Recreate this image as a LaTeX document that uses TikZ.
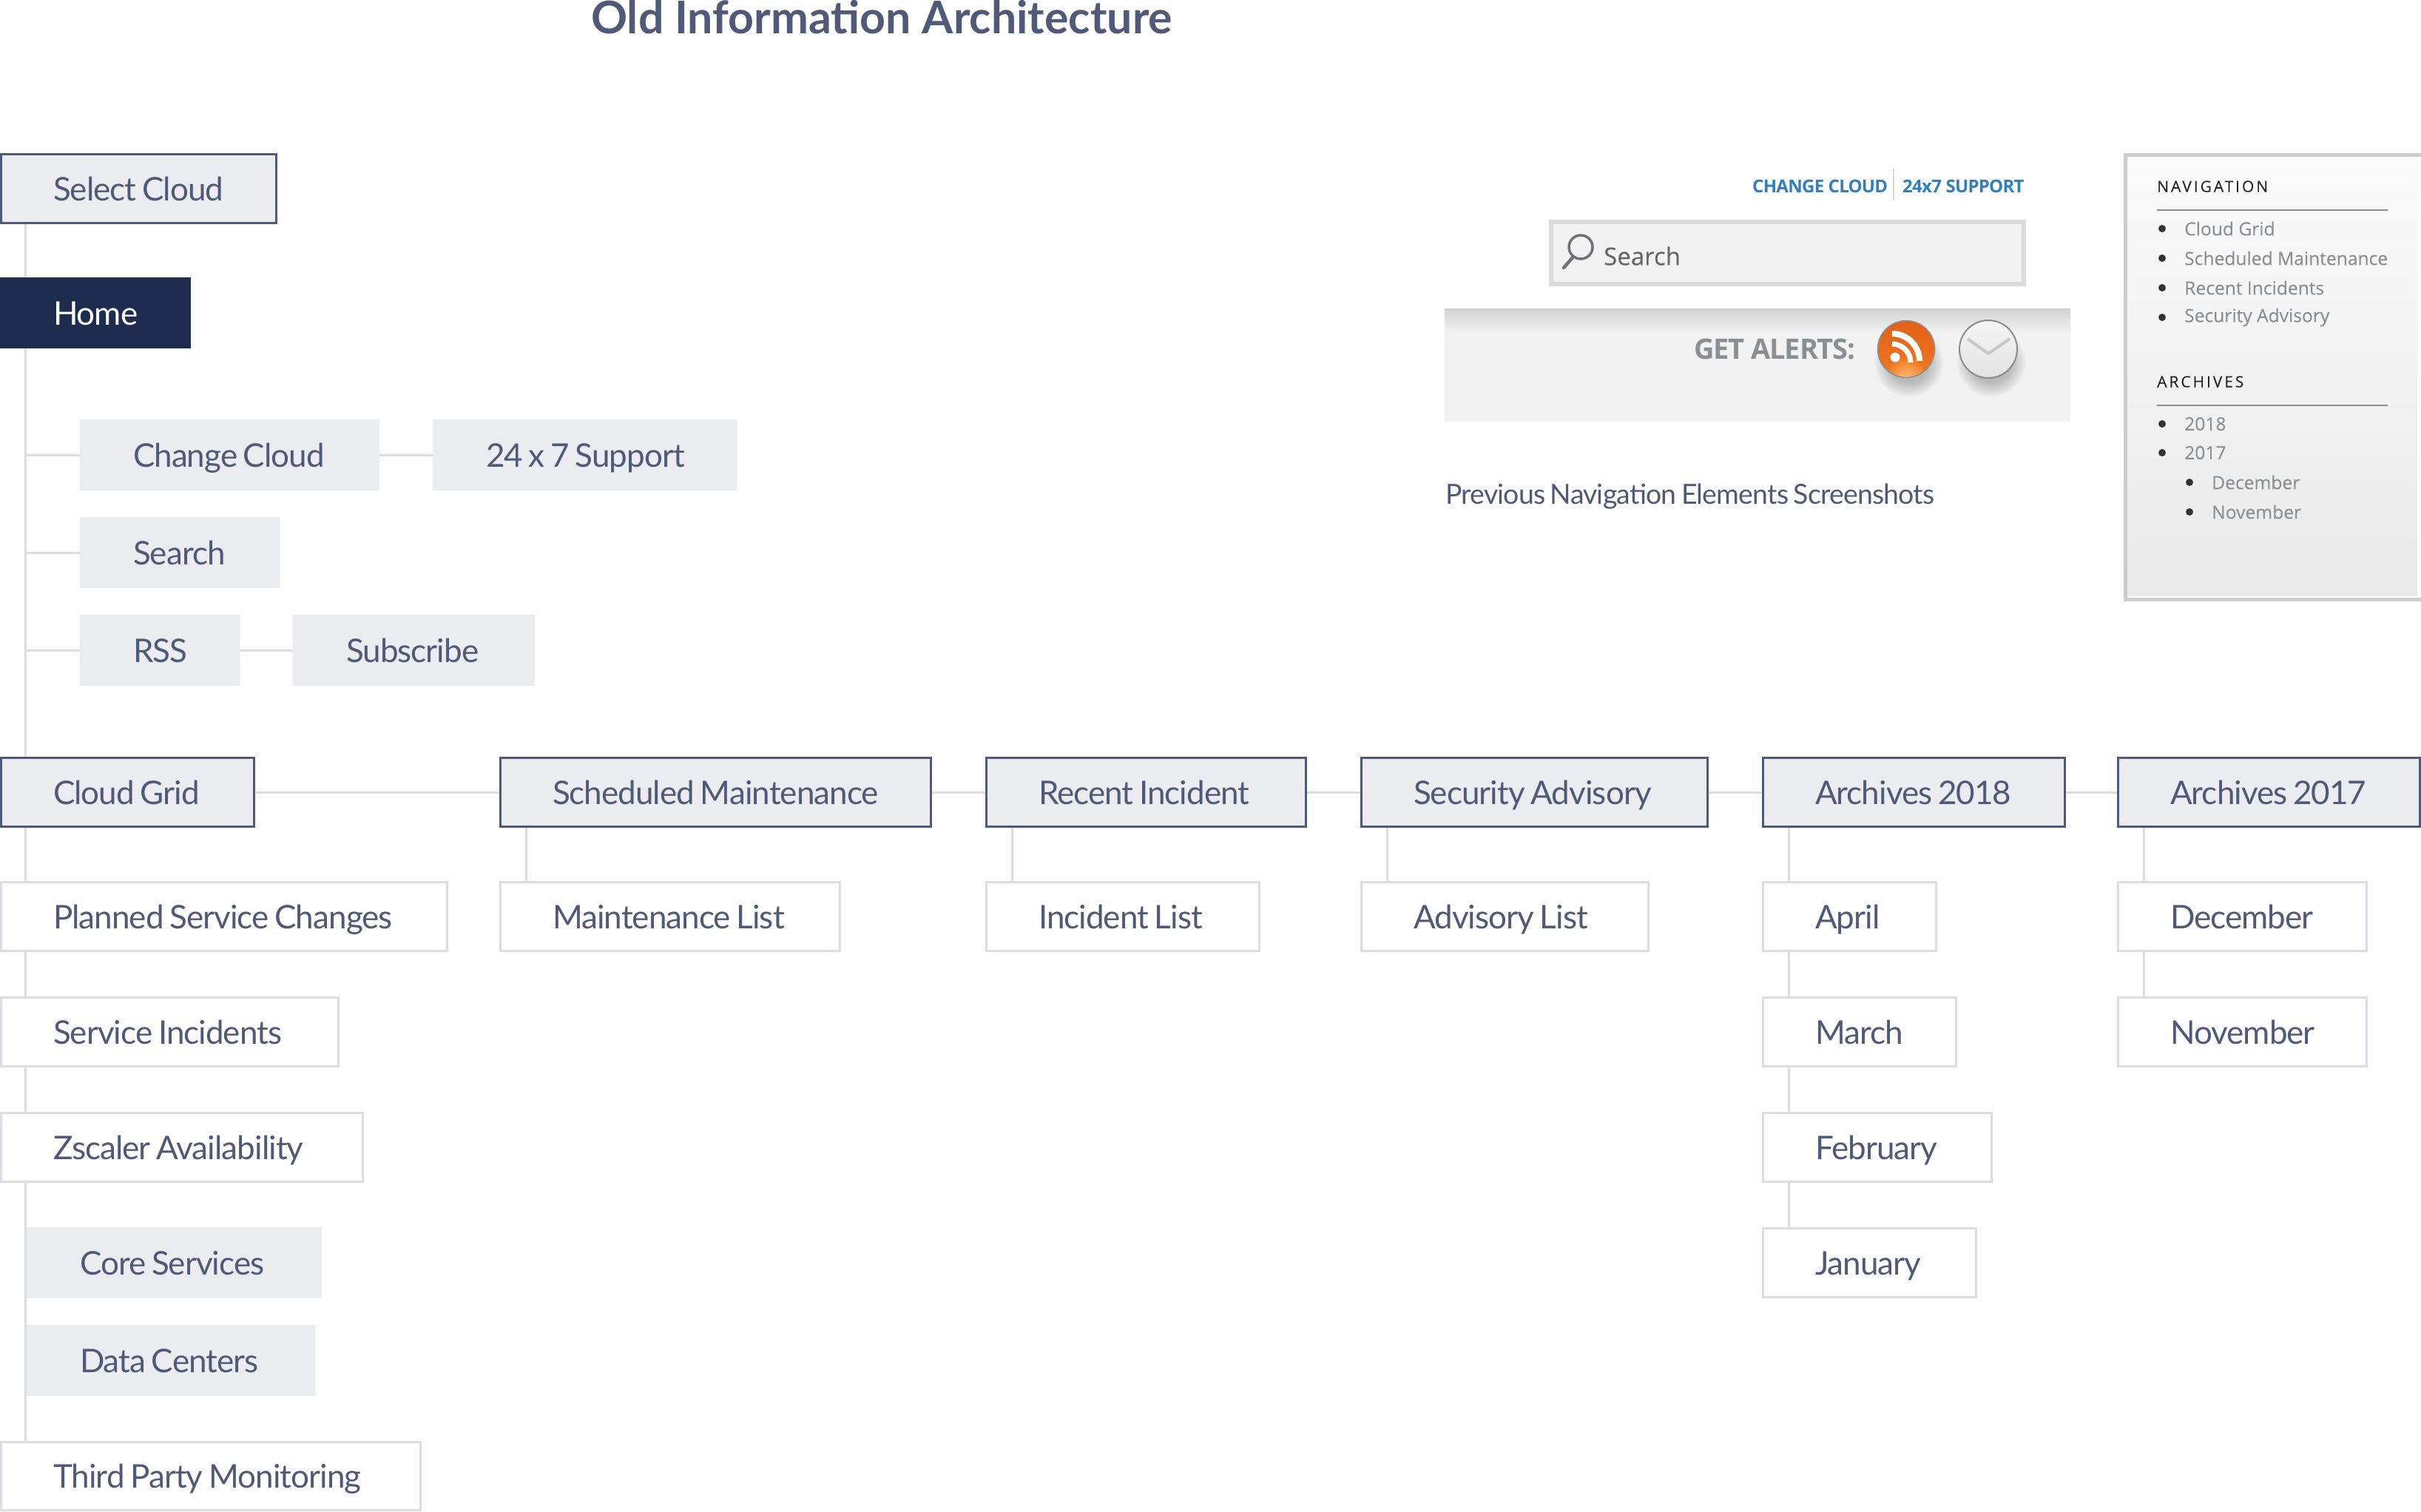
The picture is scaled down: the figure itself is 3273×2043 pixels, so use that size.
\documentclass[tikz,border=0pt]{standalone}
\usepackage{fontspec}
\setmainfont{Lato}[LetterSpace=-2.2,WordSpace=0.75]
\newfontfamily\titlefont{Lato Bold}
\newfontfamily\shotfont{Open Sans}[FakeBold=0.15]
\newfontfamily\shotboldfont{Open Sans Bold}
\usetikzlibrary{calc}
\definecolor{ink}{HTML}{505A78}
\definecolor{boxfill}{HTML}{EBECF0}
\definecolor{rulegrey}{HTML}{DCDDE3}
\definecolor{navy}{HTML}{1E2D4F}
\definecolor{shotgrey}{HTML}{8C8F92}
\definecolor{linkblue}{HTML}{2F7FC1}
\definecolor{panelgrey}{HTML}{F2F2F2}
\definecolor{rssA}{HTML}{E2601A}
\definecolor{rssB}{HTML}{EE7A1E}
\definecolor{rssC}{HTML}{FAC080}
\tikzset{
  boxtext/.style={inner sep=0pt,font=\fontsize{44}{53}\selectfont,text=ink},
  selbox/.style={boxtext,draw=ink,line width=3pt,fill=boxfill},
  homebox/.style={boxtext,fill=navy,text=white},
  softbox/.style={boxtext,fill=boxfill},
  linebox/.style={boxtext,draw=rulegrey,line width=3pt,fill=white},
  link/.style={draw=rulegrey,line width=3pt},
  shotitem/.style={inner sep=0pt,anchor=west,font=\shotfont\fontsize{24.6}{28}\selectfont,text=shotgrey},
  shothead/.style={inner sep=0pt,anchor=west,font=\shotfont\fontsize{21}{26}\selectfont,text=black!85},
  shotbullet/.style={circle,fill=black!80,inner sep=0pt,minimum size=10pt},
}
% #1 inset, #2 name, #3-#6 outer edges, #7 style, #8 text
\newcommand{\bxgen}[8]{%
  \pgfmathsetmacro\bxW{#5-#3-2*#1}%
  \pgfmathsetmacro\bxHt{#6-#4-2*#1}%
  \pgfmathsetmacro\bxInd{72-#1}%
  \node[#7,minimum height=\bxHt pt] (#2) at ({(#3+#5)/2},{(#4+#6)/2})
    {\makebox[\bxW pt][l]{\hspace{\bxInd pt}\rule[-12pt]{0pt}{56pt}#8}};%
}
\newcommand{\sel}[6]{\bxgen{1.5}{#1}{#2}{#3}{#4}{#5}{selbox}{#6}}
\newcommand{\lin}[6]{\bxgen{1.5}{#1}{#2}{#3}{#4}{#5}{linebox}{#6}}
\newcommand{\sft}[6]{\bxgen{0}{#1}{#2}{#3}{#4}{#5}{softbox}{#6}}
\begin{document}
\begin{tikzpicture}[x=1pt,y=-1pt]
\useasboundingbox (0,0) rectangle (3273,2043);
\clip (0,0) rectangle (3273,2043);
\fill[white] (0,0) rectangle (3273,2043);
\coordinate (t) at (34,0);

\node[anchor=base west,inner sep=0pt,font=\titlefont\fontsize{60.8}{72}\selectfont,text=ink] (title) at (799,45) {Old Information Architecture};

% left tree
\sel{select}{0}{207}{375}{303}{Select Cloud}
\bxgen{0}{home}{0}{375}{258}{471}{homebox}{Home}
\sft{change}{108}{567}{513}{663}{Change Cloud}
\sft{support}{585}{567}{996}{663}{24 x 7 Support}
\sft{search}{108}{699}{378}{795}{Search}
\sft{rss}{108}{831}{324}{927}{RSS}
\sft{subscribe}{396}{831}{723}{927}{Subscribe}

\sel{cloud}{0}{1023}{345}{1119}{Cloud Grid}
\sel{sched}{675}{1023}{1260}{1119}{Scheduled Maintenance}
\sel{recent}{1332}{1023}{1767}{1119}{Recent Incident}
\sel{secur}{1839}{1023}{2310}{1119}{Security Advisory}
\sel{arcA}{2382}{1023}{2793}{1119}{Archives 2018}
\sel{arcB}{2862}{1023}{3273}{1119}{Archives 2017}

\lin{planned}{0}{1191}{606}{1287}{Planned Service Changes}
\lin{incid}{0}{1347}{459}{1443}{Service Incidents}
\lin{zscaler}{0}{1503}{492}{1599}{Zscaler Availability}
\sft{core}{36}{1659}{435}{1755}{Core Services}
\sft{data}{36}{1791}{426}{1887}{Data Centers}
\lin{third}{0}{1948}{570}{2043}{Third Party Monitoring}

\lin{mlist}{675}{1191}{1137}{1287}{Maintenance List}
\lin{ilist}{1332}{1191}{1704}{1287}{Incident List}
\lin{alist}{1839}{1191}{2230}{1287}{Advisory List}
\lin{april}{2382}{1191}{2619}{1287}{April}
\lin{march}{2382}{1347}{2646}{1443}{March}
\lin{feb}{2382}{1503}{2694}{1599}{February}
\lin{jan}{2382}{1659}{2673}{1755}{January}
\lin{dec}{2862}{1191}{3201}{1287}{December}
\lin{nov}{2862}{1347}{3201}{1443}{November}

% connectors
\draw[link] (select.south -| t) -- (home.north -| t);
\draw[link] (home.south -| t) -- (cloud.north -| t);
\draw[link] (change.west -| t) -- (change.west);
\draw[link] (change.east) -- (support.west);
\draw[link] (search.west -| t) -- (search.west);
\draw[link] (rss.west -| t) -- (rss.west);
\draw[link] (rss.east) -- (subscribe.west);
\draw[link] (cloud.south -| t) -- (planned.north -| t);
\draw[link] (planned.south -| t) -- (incid.north -| t);
\draw[link] (incid.south -| t) -- (zscaler.north -| t);
\draw[link] (zscaler.south -| t) -- (third.north -| t);
\draw[link] (cloud.east) -- (sched.west);
\draw[link] (sched.east) -- (recent.west);
\draw[link] (recent.east) -- (secur.west);
\draw[link] (secur.east) -- (arcA.west);
\draw[link] (arcA.east) -- (arcB.west);
\draw[link] ([xshift=36pt]sched.south west) -- ([xshift=36pt]mlist.north west);
\draw[link] ([xshift=36pt]recent.south west) -- ([xshift=36pt]ilist.north west);
\draw[link] ([xshift=36pt]secur.south west) -- ([xshift=36pt]alist.north west);
\draw[link] ([xshift=36pt]arcA.south west) -- ([xshift=36pt]april.north west);
\draw[link] ([xshift=36pt]april.south west) -- ([xshift=36pt]march.north west);
\draw[link] ([xshift=36pt]march.south west) -- ([xshift=36pt]feb.north west);
\draw[link] ([xshift=36pt]feb.south west) -- ([xshift=36pt]jan.north west);
\draw[link] ([xshift=36pt]arcB.south west) -- ([xshift=36pt]dec.north west);
\draw[link] ([xshift=36pt]dec.south west) -- ([xshift=36pt]nov.north west);

% screenshot: header links
\node[inner sep=0pt,anchor=west,font=\shotboldfont\fontsize{24}{28}\selectfont,text=linkblue] (lnkA) at (2369,252) {\addfontfeature{LetterSpace=-3}CHANGE CLOUD};
\draw[black!15,line width=2pt] (2560,228) -- (2560,270);
\node[inner sep=0pt,anchor=west,font=\shotboldfont\fontsize{24}{28}\selectfont,text=linkblue] (lnkB) at (2572,252) {\addfontfeature{LetterSpace=-3}24x7 SUPPORT};

% screenshot: search box
\draw[draw=black!14,fill=black!5,line width=6pt] (2097,300) rectangle (2736,384);
\draw[shotgrey!80!black,line width=3.5pt] (2137,334) circle (16);
\draw[shotgrey!80!black,line width=4.5pt,line cap=round] (2127,347) -- (2114,362);
\node[inner sep=0pt,anchor=west,font=\shotfont\fontsize{33}{40}\selectfont,text=black!60] (srch) at (2168,346) {Search};

% screenshot: alerts panel
\fill[panelgrey] (1953,417) rectangle (2799,570);
\shade[top color=black!18,bottom color=panelgrey] (1953,417) rectangle (2799,450);
\node[inner sep=0pt,anchor=west,font=\shotboldfont\fontsize{38}{44}\selectfont,text=shotgrey] (alerts) at (2290,472) {\addfontfeature{LetterSpace=-3}GET ALERTS:};
\foreach \cx in {2581,2692}{
  \foreach \rr in {46,43,...,28}{
    \fill[black,opacity=0.035] (\cx,490) circle (\rr);
  }
}
\shade[top color=rssA,bottom color=rssB] (2577,472) circle (38);
\begin{scope}
  \clip (2577,472) circle (38);
  \shade[inner color=rssC,outer color=rssB] (2577,512) circle (28);
\end{scope}
\draw[black!45,line width=1.5pt] (2577,472) circle (38.5);
\draw[white,line width=8pt] (2558,451) arc (-90:0:37);
\draw[white,line width=7pt] (2558,465) arc (-90:0:25);
\fill[white] (2562,483) circle (6.5);
\shade[top color=black!4,bottom color=black!11] (2688,472) circle (38);
\draw[black!45,line width=2pt] (2688,472) circle (39);
\draw[black!22,line width=4pt] (2660,458) -- (2688,478) -- (2717,458);

\node[inner sep=0pt,anchor=west,font=\fontsize{37.4}{45}\selectfont,text=ink] (caption) at (1954,671) {Previous Navigation Elements Screenshots};

% screenshot: navigation panel
\fill[black!20] (2871,207) rectangle (3273,813);
\fill[white] (2876,212) rectangle (3273,808);
\shade[top color=black!2,bottom color=black!8.5] (2876,212) rectangle (3268,805);
\node[shothead] (hNav) at (2916,252) {\addfontfeature{LetterSpace=14}NAVIGATION};
\draw[black!45,line width=2.5pt] (2916,284) -- (3228,284);
\node[shotitem] (n1) at (2953,309) {Cloud Grid};
\node[shotitem] (n2) at (2953,349) {Scheduled Maintenance};
\node[shotitem] (n3) at (2953,389) {Recent Incidents};
\node[shotitem] (n4) at (2953,429) {Security Advisory};
\node[shothead] (hArc) at (2916,516) {\addfontfeature{LetterSpace=14}ARCHIVES};
\draw[black!45,line width=2.5pt] (2916,548) -- (3228,548);
\node[shotitem] (a1) at (2953,573) {2018};
\node[shotitem] (a2) at (2953,612) {2017};
\node[shotitem] (a3) at (2990,652) {December};
\node[shotitem] (a4) at (2990,692) {November};
\foreach \yy in {309,349,389,429,573,612}{\node[shotbullet] at (2923,\yy) {};}
\foreach \yy in {652,692}{\node[shotbullet] at (2960,\yy) {};}
\end{tikzpicture}
\end{document}
